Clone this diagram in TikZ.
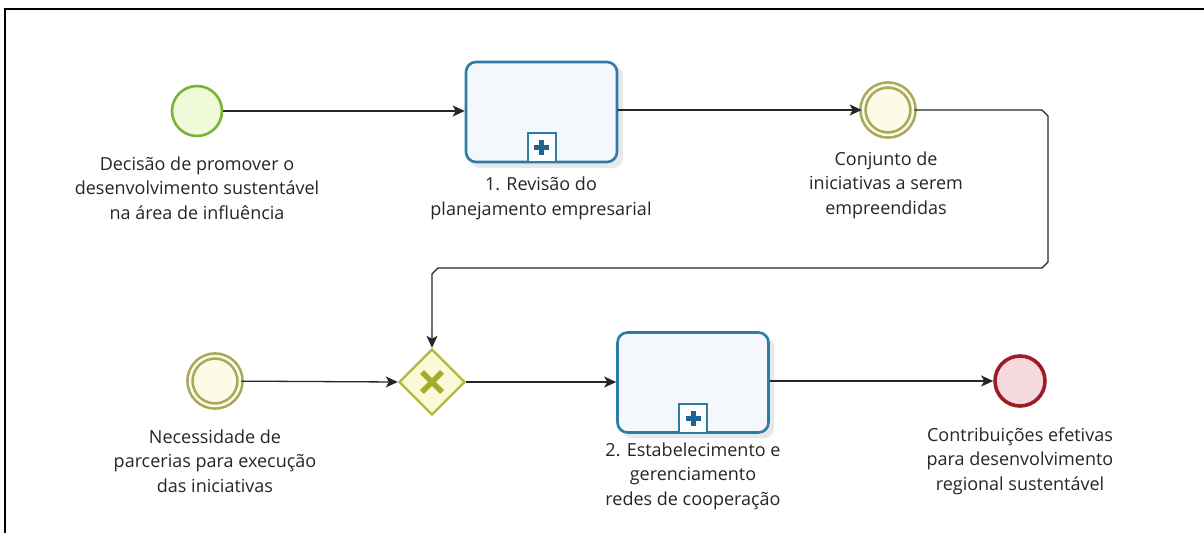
\documentclass[tikz,border=0pt]{standalone}
\usepackage{fontspec}
\setmainfont{Open Sans}
\usetikzlibrary{arrows.meta,shapes.geometric,calc}

\definecolor{startfill}{HTML}{F1FAD8}
\definecolor{startline}{HTML}{78B33A}
\definecolor{midline}{HTML}{A9A858}
\definecolor{midfill}{HTML}{FBFBE8}
\definecolor{taskline}{HTML}{2B7DA6}
\definecolor{taskfill}{HTML}{F4F7FC}
\definecolor{plusfill}{HTML}{1E6494}
\definecolor{gateline}{HTML}{B6B83C}
\definecolor{gatefill}{HTML}{FAFAD6}
\definecolor{gatex}{HTML}{A6AC2C}
\definecolor{endline}{HTML}{A11B24}
\definecolor{endfill}{HTML}{F6D9DC}

\tikzset{
  flow/.style={line width=1.3pt, draw=black!85, -{Stealth[length=12pt,width=11pt,inset=3pt]}},
  startev/.style={circle, minimum size=50pt, inner sep=0pt, draw=startline, line width=2.6pt, fill=startfill},
  midev/.style={circle, minimum size=50pt, inner sep=0pt, draw=midline, line width=2.6pt, fill=midfill, double=midfill, double distance=2.5pt},
  endev/.style={circle, minimum size=50pt, inner sep=0pt, draw=endline, line width=3.6pt, fill=endfill},
  taskbox/.style={rectangle, rounded corners=10pt, minimum width=151pt, minimum height=100pt, draw=taskline, line width=2.6pt, fill=taskfill},
  plusbox/.style={rectangle, minimum width=28pt, minimum height=29pt, inner sep=0pt, draw=taskline, line width=2pt, fill=white},
  gate/.style={diamond, minimum width=66pt, minimum height=66pt, inner sep=0pt, draw=gateline, line width=2.4pt, fill=gatefill},
  lbl/.style={align=center, font=\fontsize{18pt}{24.5pt}\selectfont, text=black!85},
  shade/.style={fill=black!9, draw=none}
}

\newcommand{\plusmark}[1]{%
  \fill[plusfill] ($(#1)+(-2.5pt,-7.5pt)$) rectangle ($(#1)+(2.5pt,7.5pt)$);
  \fill[plusfill] ($(#1)+(-7.5pt,-2.5pt)$) rectangle ($(#1)+(7.5pt,2.5pt)$);
}

\begin{document}
\begin{tikzpicture}[x=1pt,y=-1pt]
\useasboundingbox (0,0) rectangle (1204,533);
\fill[white] (0,0) rectangle (1204,533);

% frame
\draw[line width=1.6pt, black] (1204,9) -- (5,9) -- (5,533);

% soft shadows
\fill[shade, rounded corners=10pt] (470,66) rectangle (623,168);
\fill[shade, rounded corners=10pt] (622,337) rectangle (774,438);

% events, tasks, gateway
\node[startev] (start) at (197,111) {};
\node[taskbox] (t1) at (541.5,112) {};
\node[plusbox] (p1) at (541.5,147.5) {};
\plusmark{p1}
\node[midev] (m1) at (888,110) {};

\node[midev] (m2) at (215,381) {};
\node[gate] (g) at (432,382) {};
\draw[gatex, line width=5.5pt] ($(g)+(-10pt,-10pt)$) -- ($(g)+(10pt,10pt)$);
\draw[gatex, line width=5.5pt] ($(g)+(-10pt,10pt)$) -- ($(g)+(10pt,-10pt)$);
\node[taskbox] (t2) at (693,382.5) {};
\node[plusbox] (p2) at (693,418) {};
\plusmark{p2}
\node[endev] (end) at (1020,381) {};

% labels
\node[lbl] (ls) at (197,188) {Decisão de promover o\\desenvolvimento sustentável\\na área de influência};
\node[lbl] (l1) at (541,198.5) {1. Revisão do\\planejamento empresarial};
\node[lbl] (lm1) at (886,185) {Conjunto de\\iniciativas a serem\\empreendidas};
\node[lbl] (lm2) at (215,461) {Necessidade de\\parcerias para execução\\das iniciativas};
\node[lbl] (l2) at (693,476) {2. Estabelecimento e\\gerenciamento\\redes de cooperação};
\node[lbl] (le) at (1020,461) {Contribuições efetivas\\para desenvolvimento\\regional sustentável};

% sequence flows
\coordinate (c1) at (1048,110);
\coordinate (c2) at (1048,268);
\coordinate (c3) at (432,268);
\draw[flow] (start) -- (t1.west |- start);
\draw[flow] (t1.east |- m1) -- (m1);
\draw[flow] (m1.east) -- ($(c1)+(-6,0)$) -- ($(c1)+(0,6)$) -- ($(c2)+(0,-6)$) -- ($(c2)+(-6,0)$) -- ($(c3)+(6,0)$) -- ($(c3)+(0,6)$) -- (g.north);
\draw[flow] (m2) -- (g.west);
\draw[flow] (g.east) -- (t2.west |- g);
\draw[flow] (t2.east |- end) -- (end);
\end{tikzpicture}
\end{document}
